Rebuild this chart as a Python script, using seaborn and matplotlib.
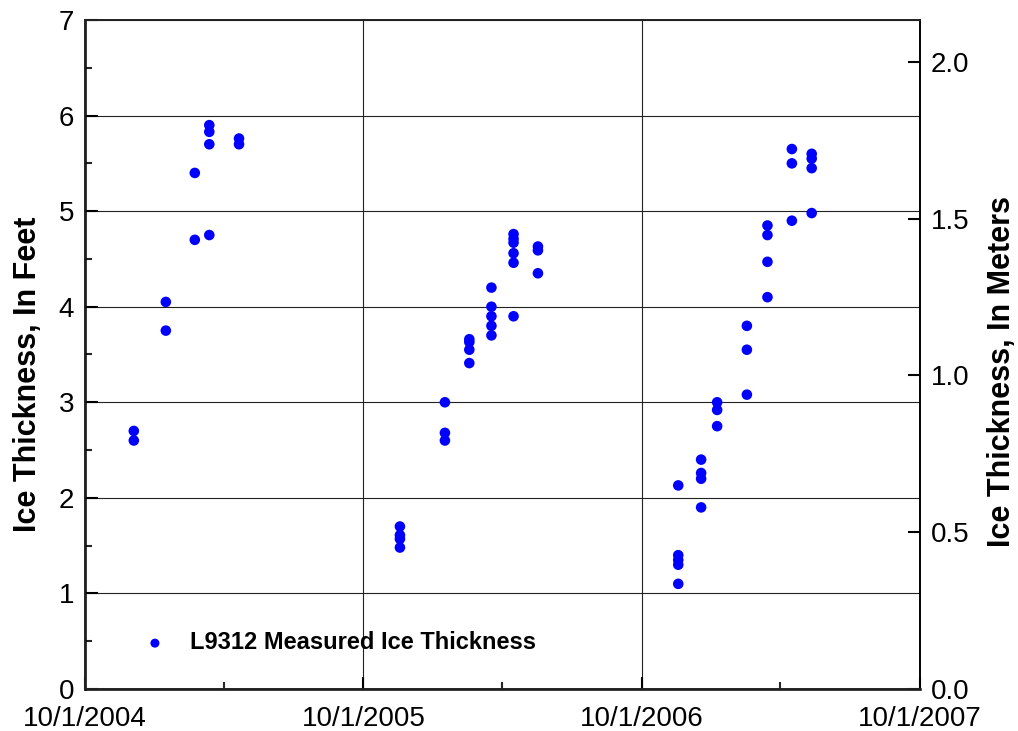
import pandas as pd
import matplotlib
matplotlib.use("Agg")
import matplotlib.pyplot as plt
import matplotlib.dates as mdates
from matplotlib.ticker import MultipleLocator, FuncFormatter
import seaborn as sns

sns.set_theme(style="ticks")
plt.rcParams["font.family"] = ["Liberation Sans", "DejaVu Sans"]
plt.rcParams["text.color"] = "black"
plt.rcParams["axes.labelcolor"] = "black"

# Datas de medição e espessura do gelo (pés)
survey_dates = (
    ["2004-12-04"] * 2 + ["2005-01-15"] * 2 + ["2005-02-22"] * 2 +
    ["2005-03-13"] * 4 + ["2005-04-21"] * 2 +
    ["2005-11-18"] * 4 + ["2006-01-16"] * 3 + ["2006-02-17"] * 4 +
    ["2006-03-18"] * 5 + ["2006-04-16"] * 6 + ["2006-05-18"] * 3 +
    ["2006-11-18"] * 5 + ["2006-12-18"] * 4 + ["2007-01-08"] * 3 +
    ["2007-02-16"] * 3 + ["2007-03-15"] * 4 + ["2007-04-16"] * 3 +
    ["2007-05-12"] * 4
)
thickness_ft = [
    2.70, 2.60,
    4.05, 3.75,
    5.40, 4.70,
    5.90, 5.83, 5.70, 4.75,
    5.76, 5.70,
    1.70, 1.61, 1.57, 1.48,
    3.00, 2.68, 2.60,
    3.66, 3.63, 3.55, 3.41,
    4.20, 4.00, 3.90, 3.80, 3.70,
    4.76, 4.71, 4.67, 4.56, 4.46, 3.90,
    4.63, 4.59, 4.35,
    2.13, 1.40, 1.35, 1.30, 1.10,
    2.40, 2.26, 2.20, 1.90,
    3.00, 2.92, 2.75,
    3.80, 3.55, 3.08,
    4.85, 4.75, 4.47, 4.10,
    5.65, 5.50, 4.90,
    5.60, 5.55, 5.45, 4.98,
]
legend_label = "L9312 Measured Ice Thickness"
FT_TO_M = 0.3048

df = pd.DataFrame({"Data": pd.to_datetime(survey_dates), "Espessura (ft)": thickness_ft})

fig = plt.figure(figsize=(10.18, 7.31), dpi=100)
ax = fig.add_axes([0.0835, 0.0575, 0.8202, 0.9151])

sns.scatterplot(data=df, x="Data", y="Espessura (ft)", ax=ax, color="#0000ff",
                s=58, edgecolor="none", label=legend_label, zorder=3)

ax.set_xlim(pd.Timestamp("2004-10-01"), pd.Timestamp("2007-10-01"))
ax.set_ylim(0, 7)
ax.xaxis.set_major_locator(mdates.MonthLocator(bymonth=10, bymonthday=1))
ax.xaxis.set_minor_locator(mdates.MonthLocator(bymonth=4, bymonthday=1))
ax.xaxis.set_major_formatter(FuncFormatter(
    lambda v, pos: "{d.month}/{d.day}/{d.year}".format(d=mdates.num2date(v))))
ax.yaxis.set_major_locator(MultipleLocator(1))
ax.yaxis.set_minor_locator(MultipleLocator(0.5))

ax.grid(True, which="major", color="#222222", linewidth=0.8)
ax.tick_params(axis="both", which="major", direction="in", length=9, width=1.5,
               labelsize=20, colors="black", pad=8)
ax.tick_params(axis="both", which="minor", direction="in", length=5, width=1.5)
ax.tick_params(axis="x", which="major", pad=12)
ax.tick_params(top=False, right=False, which="both")
for side in ["left", "bottom"]:
    ax.spines[side].set_linewidth(1.8)
for side in ["top", "right"]:
    ax.spines[side].set_linewidth(1.2)
for sp in ax.spines.values():
    sp.set_color("black")

ax.set_xlabel("")
ax.set_ylabel("Ice Thickness, In Feet", fontsize=22, fontweight="bold")
ax.yaxis.set_label_coords(-0.05, 0.47)

ax2 = ax.twinx()
ax2.set_ylim(0, 7 * FT_TO_M)
ax2.yaxis.set_major_locator(MultipleLocator(0.5))
ax2.yaxis.set_major_formatter(FuncFormatter(lambda v, pos: f"{v:.1f}"))
ax2.tick_params(axis="y", which="major", direction="in", length=9, width=1.5,
                labelsize=20, colors="black", pad=8)
ax2.spines["right"].set_linewidth(1.2)
ax2.spines["right"].set_color("black")
ax2.set_ylabel("Ice Thickness, In Meters", fontsize=22, fontweight="bold")
ax2.yaxis.set_label_coords(1.08, 0.475)

leg = ax.legend(loc="lower left", bbox_to_anchor=(0.03, 0.02), frameon=False,
                prop={"size": 17, "weight": "bold"}, markerscale=0.85,
                handletextpad=0.5)

fig.savefig("out.png", dpi=100)
